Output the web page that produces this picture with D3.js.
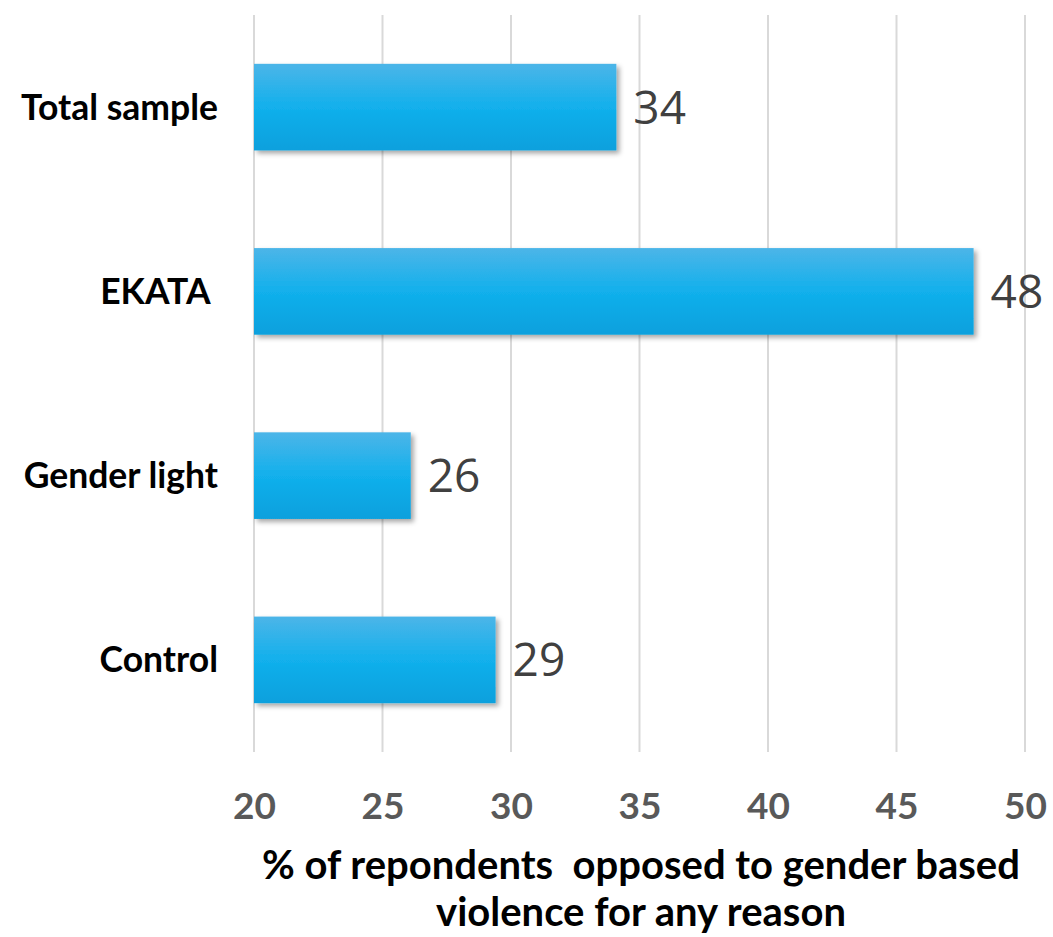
<!DOCTYPE html>
<html><head><meta charset="utf-8">
<script src="https://cdn.jsdelivr.net/npm/d3@7"></script>
<style>html,body{margin:0;padding:0;background:#fff;}</style>
</head><body>
<svg id="chart" width="1053" height="937"></svg>
<script>
const categories = ["Total sample", "EKATA\u00A0", "Gender light", "Control"];
const values = [34.1, 48.0, 26.1, 29.4];
const valueLabels = ["34", "48", "26", "29"];
const xTicks = [20, 25, 30, 35, 40, 45, 50];
const titleLines = ["% of repondents  opposed to gender based", "violence for any reason"];

const svg = d3.select("#chart");
const x = d3.scaleLinear().domain([20, 50]).range([254, 1025]);
const y = d3.scaleBand().domain(categories).range([15, 752]).paddingInner(0.53).paddingOuter(0.265);

const defs = svg.append("defs");
const grad = defs.append("linearGradient").attr("id", "barGrad").attr("x1", 0).attr("y1", 0).attr("x2", 0).attr("y2", 1);
grad.append("stop").attr("offset", "0%").attr("stop-color", "#4cb5e8");
grad.append("stop").attr("offset", "50%").attr("stop-color", "#12b0ec");
grad.append("stop").attr("offset", "100%").attr("stop-color", "#07a0dd");
const f = defs.append("filter").attr("id", "shadow").attr("x", "-5%").attr("y", "-10%").attr("width", "115%").attr("height", "130%");
f.append("feDropShadow").attr("dx", 3).attr("dy", 3).attr("stdDeviation", 2.5).attr("flood-color", "#000").attr("flood-opacity", 0.35);

// gridlines
svg.append("g").selectAll("line").data(xTicks).join("line")
  .attr("x1", d => x(d)).attr("x2", d => x(d))
  .attr("y1", 15).attr("y2", 752)
  .attr("stroke", "#d9d9d9").attr("stroke-width", 2);

// x axis tick labels
const xAxis = d3.axisBottom(x).tickValues(xTicks).tickSize(0).tickPadding(0);
const gx = svg.append("g").attr("transform", "translate(0,792)").call(xAxis);
gx.select(".domain").remove();
gx.selectAll("text").attr("font-family", "Lato, 'Open Sans', sans-serif").attr("font-weight", "bold")
  .attr("font-size", 37).attr("fill", "#595959").attr("dy", "0.74em");

// y axis labels
const yAxis = d3.axisLeft(y).tickSize(0).tickPadding(0);
const gy = svg.append("g").attr("transform", "translate(218,0)").call(yAxis);
gy.select(".domain").remove();
gy.selectAll("text").attr("font-family", "Lato, 'Open Sans', sans-serif").attr("font-weight", "bold")
  .attr("font-size", 35.5).attr("fill", "#000").attr("dy", "0.35em").style("white-space", "pre");

// bars
svg.append("g").selectAll("rect").data(values).join("rect")
  .attr("x", x(20)).attr("y", (d, i) => y(categories[i]))
  .attr("width", d => x(d) - x(20)).attr("height", y.bandwidth())
  .attr("fill", "url(#barGrad)").attr("filter", "url(#shadow)");

// value labels
svg.append("g").selectAll("text").data(values).join("text")
  .attr("x", d => x(d) + 17)
  .attr("y", (d, i) => y(categories[i]) + y.bandwidth() / 2)
  .attr("dy", "0.36em")
  .attr("font-family", "'Open Sans', sans-serif").attr("font-size", 46).attr("fill", "#404040")
  .text((d, i) => valueLabels[i]);

// axis title
svg.append("g").selectAll("text").data(titleLines).join("text")
  .attr("x", 641).attr("y", (d, i) => 879 + i * 47)
  .attr("text-anchor", "middle")
  .attr("font-family", "Lato, 'Open Sans', sans-serif").attr("font-weight", "bold")
  .attr("font-size", 40).attr("fill", "#000")
  .style("white-space", "pre")
  .text(d => d);
</script>
</body></html>
